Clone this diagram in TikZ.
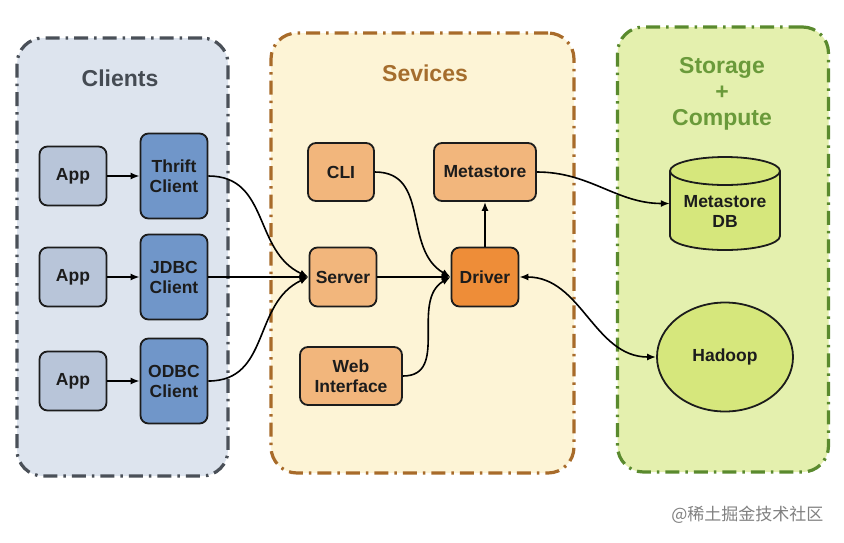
\documentclass[tikz,border=0pt]{standalone}
\usepackage{fontspec}
\setmainfont{Liberation Sans}
\newfontfamily\cjkfont{Noto Sans CJK SC}
\usetikzlibrary{arrows.meta,shapes.geometric}
\definecolor{cliFill}{HTML}{DDE4EE}
\definecolor{cliLine}{HTML}{4A5058}
\definecolor{cliText}{HTML}{454B53}
\definecolor{svcFill}{HTML}{FDF4D6}
\definecolor{svcLine}{HTML}{A86B2A}
\definecolor{svcText}{HTML}{A56D2D}
\definecolor{stoFill}{HTML}{E4F0AE}
\definecolor{stoLine}{HTML}{5A8A2E}
\definecolor{stoText}{HTML}{6A9A3A}
\definecolor{appFill}{HTML}{B8C5D9}
\definecolor{cliBox}{HTML}{7096C9}
\definecolor{svcBox}{HTML}{F2B67C}
\definecolor{drvBox}{HTML}{EE8D38}
\definecolor{dbFill}{HTML}{D6E77C}
\definecolor{txtDark}{HTML}{1C1C1C}
\tikzset{
  x=1pt,y=-1pt,
  grp/.style={rounded corners=26pt, line width=3.2pt, dash pattern=on 14pt off 6pt on 2.5pt off 6pt, minimum width=#1},
  grptitle/.style={font=\bfseries\fontsize{23}{27}\selectfont, align=center},
  box/.style={draw=txtDark, line width=1.8pt, rounded corners=8pt, align=center, inner sep=0pt,
    font=\bfseries\fontsize{17.5}{20}\selectfont, text=txtDark},
  arr/.style={-{Latex[length=9pt,width=7pt]}, line width=1.6pt, black},
  darr/.style={{Latex[length=9pt,width=7pt]}-{Latex[length=9pt,width=7pt]}, line width=1.6pt, black}
}
\begin{document}
\begin{tikzpicture}
\useasboundingbox (0,0) rectangle (844,542);
% groups
\node[grp=211, draw=cliLine, fill=cliFill, minimum height=438] (gcli) at (122.5,257) {};
\node[grp=303, draw=svcLine, fill=svcFill, minimum height=440] (gsvc) at (422.5,253) {};
\node[grp=211, draw=stoLine, fill=stoFill, minimum height=445] (gsto) at (723,249.5) {};
\node[grptitle, text=cliText] (tcli) at (120,78) {Clients};
\node[grptitle, text=svcText] (tsvc) at (425,73) {Sevices};
\node[grptitle, text=stoText, font=\bfseries\fontsize{23}{26}\selectfont] (tsto) at (722,94) {Storage\\+\\Compute};
% clients
\node[box, fill=appFill, minimum width=67, minimum height=59] (app1) at (73,176) {App};
\node[box, fill=appFill, minimum width=67, minimum height=59] (app2) at (73,277) {App};
\node[box, fill=appFill, minimum width=67, minimum height=59] (app3) at (73,381) {App};
\node[box, fill=cliBox, minimum width=67, minimum height=85] (thrift) at (174,176) {Thrift\\Client};
\node[box, fill=cliBox, minimum width=67, minimum height=85] (jdbc) at (174,277) {JDBC\\Client};
\node[box, fill=cliBox, minimum width=67, minimum height=85] (odbc) at (174,381) {ODBC\\Client};
% services
\node[box, fill=svcBox, minimum width=66, minimum height=58] (cli) at (341,172) {CLI};
\node[box, fill=svcBox, minimum width=102, minimum height=58] (meta) at (485,172) {Metastore};
\node[box, fill=svcBox, minimum width=67, minimum height=59] (server) at (343,277) {Server};
\node[box, fill=drvBox, minimum width=67, minimum height=59] (driver) at (485,277) {Driver};
\node[box, fill=svcBox, minimum width=102, minimum height=58] (web) at (351,376) {Web\\Interface};
% storage
\node[inner sep=0pt, minimum width=110, minimum height=93] (mdb) at (725,203.5) {};
\fill[dbFill] (670,171) -- (670,236) arc[start angle=180, end angle=0, x radius=55, y radius=14] -- (780,171) -- cycle;
\fill[dbFill] (725,171) ellipse[x radius=55, y radius=14];
\draw[txtDark, line width=1.8pt] (670,171) -- (670,236) arc[start angle=180, end angle=0, x radius=55, y radius=14] -- (780,171);
\draw[txtDark, line width=1.8pt] (725,171) ellipse[x radius=55, y radius=14];
\node[font=\bfseries\fontsize{17.5}{20}\selectfont, text=txtDark, align=center] (mdbtext) at (725,211) {Metastore\\DB};
\node[ellipse, draw=txtDark, line width=1.8pt, fill=dbFill, minimum width=136, minimum height=109,
  font=\bfseries\fontsize{17.5}{20}\selectfont, text=txtDark, inner sep=0pt] (hadoop) at (725,357) {Hadoop};
% connectors
\draw[arr] (app1) -- (thrift);
\draw[arr] (app2) -- (jdbc);
\draw[arr] (app3) -- (odbc);
\draw[arr] (thrift.east) to[out=0, in=155, looseness=1.1] (server.west);
\draw[arr] (jdbc.east) -- (server.west);
\draw[arr] (odbc.east) to[out=0, in=205, looseness=1.1] (server.west);
\draw[arr] (server.east) -- (driver.west);
\draw[arr] (cli.east) to[out=0, in=150, looseness=1.1] (driver.west);
\draw[arr] (web.east) to[out=0, in=210, looseness=1.1] (driver.west);
\draw[arr] (driver.north) -- (meta.south);
\draw[arr] (meta.east) to[out=0, in=180] (mdb.west);
\draw[darr] (driver.east) to[out=0, in=180] (hadoop.west);
% watermark
\node[font=\cjkfont\fontsize{17}{20}\selectfont, text=black!50, anchor=east] (wm) at (827,515) {@稀土掘金技术社区};
\end{tikzpicture}
\end{document}
